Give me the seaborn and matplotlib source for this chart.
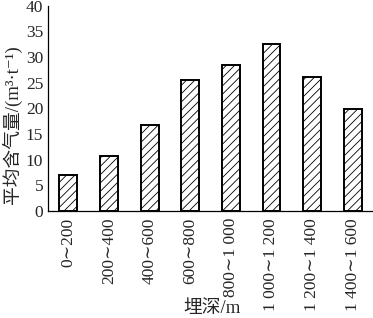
import matplotlib
matplotlib.use("Agg")
import matplotlib.pyplot as plt
import seaborn as sns
import pandas as pd
import numpy as np

categories = ["0∼200", "200∼400", "400∼600", "600∼800", "800∼1 000",
              "1 000∼1 200", "1 200∼1 400", "1 400∼1 600"]
values = [7.0, 10.7, 16.7, 25.5, 28.4, 32.6, 26.1, 19.9]
yticks = [0, 5, 10, 15, 20, 25, 30, 35, 40]

sns.set_style("white")
fam = ['Liberation Serif', 'DejaVu Serif', 'Noto Sans CJK SC', 'DejaVu Sans']
plt.rcParams['font.family'] = fam
plt.rcParams['hatch.linewidth'] = 0.6

df = pd.DataFrame({"depth": categories, "gas": values})

fig = plt.figure(figsize=(3.73, 3.18), dpi=100)
ax = fig.add_axes([48/373, (318-211)/318, (373-48)/373, (211-5.5)/318])
sns.barplot(data=df, x="depth", y="gas", color="white", edgecolor="black",
            linewidth=1.4, width=0.44, ax=ax, order=categories)
for p in ax.patches:
    p.set_hatch('////')

ax.set_ylim(0, 40)
ax.set_xlim(-0.5, 7.46)
ax.set_yticks(yticks)
ax.set_yticklabels([str(t) for t in yticks], fontsize=12.5)
ax.set_xticks(range(len(categories)))
ax.set_xticklabels(categories, rotation=90, fontsize=12.5, va='top', ha='center')
ax.set_xticks(np.arange(0.5, len(categories), 1.0), minor=True)
ax.tick_params(axis='x', which='major', length=0, pad=5)
ax.tick_params(axis='x', which='minor', direction='in', length=4, width=0.8, color='black')
ax.tick_params(axis='y', which='major', direction='in', length=4, width=0.8, color='black', pad=3.5)
for s in ['top', 'right']:
    ax.spines[s].set_visible(False)
for s in ['left', 'bottom']:
    ax.spines[s].set_color('black')
    ax.spines[s].set_linewidth(0.9)

ax.set_xlabel("")
ax.set_ylabel("")
fig.text(12/373, (318-125)/318, "平均含气量/(m³·t⁻¹)", rotation=90,
         ha='center', va='center', fontsize=13.5,
         family=['Liberation Serif', 'Noto Sans CJK SC', 'DejaVu Sans'])
fig.text(212/373, (318-309)/318, "埋深/m", ha='center', va='center', fontsize=13.5,
         family=['Liberation Serif', 'Noto Sans CJK SC', 'DejaVu Sans'])

fig.savefig("out.png", dpi=100)
